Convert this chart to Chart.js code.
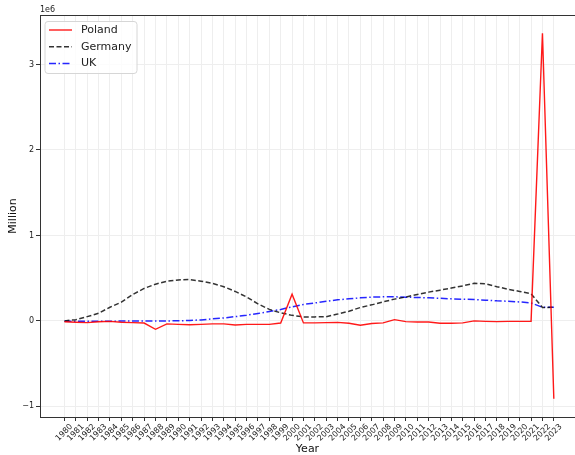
<!DOCTYPE html>
<html>
<head>
<meta charset="utf-8">
<script src="https://cdn.jsdelivr.net/npm/chart.js@4"></script>
<style>
  body { margin: 0; background: #fff; }
  #wrap { width: 575px; height: 455px; position: relative; }
</style>
</head>
<body>
<div id="wrap"><canvas id="myChart"></canvas></div>
<script>
// ----------- Data (raw units, axis shown in 1e6) ------------ //
let years = [];
for (let y = 1980; y <= 2023; y++) years.push(y);

let poland = [
  -10000, -15000, -20000, -10000, -5000, -15000, -20000, -25000, -98000, -35000,
  -40000, -45000, -40000, -35000, -35000, -48000, -40000, -40000, -40000, -25000,
  313000, -23000, -23000, -20000, -17000, -27000, -50000, -30000, -23000, 15000,
  -8000, -12000, -12000, -27000, -27000, -23000, 0, -5000, -8000, -5000,
  -5000, -5000, 3365000, -910000
];
let germany = [
  0, 15000, 50000, 90000, 160000, 220000, 310000, 380000, 430000, 465000,
  480000, 485000, 465000, 440000, 400000, 345000, 280000, 200000, 135000, 95000,
  65000, 47000, 47000, 50000, 80000, 114000, 157000, 188000, 223000, 255000,
  280000, 310000, 337000, 360000, 384000, 410000, 440000, 435000, 400000, 370000,
  345000, 317000, 157000, 160000
];
let uk = [
  -5000, -5000, -5000, -3000, -3000, -2000, -2000, -1000, 0, 0,
  2000, 5000, 12000, 24000, 35000, 50000, 67000, 87000, 110000, 134000,
  165000, 193000, 210000, 230000, 247000, 258000, 270000, 278000, 282000, 282000,
  278000, 274000, 270000, 265000, 258000, 254000, 250000, 243000, 235000, 230000,
  222000, 210000, 160000, 160000
];

let yTicks = [-1e6, 0, 1e6, 2e6, 3e6];

let fontName = "'DejaVu Sans', sans-serif";
let spine = "#333";

// ----------- Extra drawing: top spine, offset text, legend ------------ //
const extras = {
  id: "extras",
  afterDatasetsDraw(chart) {
    const ctx = chart.ctx;
    const a = chart.chartArea;
    ctx.save();
    ctx.strokeStyle = spine;
    ctx.lineWidth = 1;
    ctx.beginPath();
    ctx.moveTo(a.left, a.top + 0.5);
    ctx.lineTo(a.right, a.top + 0.5);
    ctx.stroke();

    // offset text
    ctx.fillStyle = "#222";
    ctx.font = "8px " + fontName;
    ctx.textBaseline = "middle";
    ctx.textAlign = "left";
    ctx.fillText("1e6", a.left, 10);

    // legend
    const bx = 45, by = 21.5, bw = 92, bh = 52, r = 3;
    ctx.beginPath();
    ctx.moveTo(bx + r, by);
    ctx.arcTo(bx + bw, by, bx + bw, by + bh, r);
    ctx.arcTo(bx + bw, by + bh, bx, by + bh, r);
    ctx.arcTo(bx, by + bh, bx, by, r);
    ctx.arcTo(bx, by, bx + bw, by, r);
    ctx.closePath();
    ctx.fillStyle = "rgba(255,255,255,0.8)";
    ctx.fill();
    ctx.strokeStyle = "#d6d6d6";
    ctx.stroke();

    ctx.font = "11px " + fontName;
    chart.data.datasets.forEach((ds, i) => {
      const cy = 30 + i * 16.7;
      ctx.beginPath();
      ctx.setLineDash(ds.borderDash || []);
      ctx.strokeStyle = ds.borderColor;
      ctx.lineWidth = ds.borderWidth;
      ctx.moveTo(49, cy);
      ctx.lineTo(72, cy);
      ctx.stroke();
      ctx.setLineDash([]);
      ctx.fillStyle = "#222";
      ctx.fillText(ds.label, 81, cy);
    });
    ctx.restore();
  }
};

// ----------- Chart ------------ //
function show_chart() {
  new Chart("myChart", {
    type: "line",
    data: {
      datasets: [
        {
          label: "Poland",
          data: years.map((y, i) => ({ x: y, y: poland[i] })),
          borderColor: "rgba(255,0,0,0.9)",
          borderWidth: 1.4,
          pointRadius: 0,
          tension: 0
        },
        {
          label: "Germany",
          data: years.map((y, i) => ({ x: y, y: germany[i] })),
          borderColor: "rgba(0,0,0,0.8)",
          borderWidth: 1.5,
          borderDash: [5, 2.5],
          pointRadius: 0,
          tension: 0
        },
        {
          label: "UK",
          data: years.map((y, i) => ({ x: y, y: uk[i] })),
          borderColor: "rgba(0,0,255,0.85)",
          borderWidth: 1.5,
          borderDash: [7, 2.5, 1.5, 2.5],
          pointRadius: 0,
          tension: 0
        }
      ]
    },
    options: {
      responsive: true,
      maintainAspectRatio: false,
      animation: false,
      layout: { padding: { top: 15, right: 0, left: 0, bottom: 0 } },
      plugins: { legend: { display: false }, tooltip: { enabled: false } },
      scales: {
        x: {
          type: "linear",
          min: 1977.85,
          max: 2024.86,
          afterBuildTicks: (axis) => { axis.ticks = years.map(v => ({ value: v })); },
          afterFit: (scale) => { scale.height = 38; },
          ticks: {
            autoSkip: false,
            maxRotation: 45,
            minRotation: 45,
            labelOffset: 7,
            padding: 1,
            color: "#222",
            font: { family: fontName, size: 8 },
            callback: (v) => String(v)
          },
          grid: { color: "#eeeeee", tickColor: spine, tickLength: 4, lineWidth: 1 },
          border: { color: spine, width: 1 },
          title: {
            display: true,
            text: "Year",
            color: "#111",
            font: { family: fontName, size: 11 },
            padding: { top: 0, bottom: -1 }
          }
        },
        y: {
          min: -1.124e6,
          max: 3.579e6,
          afterBuildTicks: (axis) => { axis.ticks = yTicks.map(v => ({ value: v })); },
          afterFit: (scale) => { scale.width = 40; },
          ticks: {
            padding: 2,
            color: "#222",
            font: { family: fontName, size: 8 },
            callback: (v) => (v / 1e6 < 0 ? "\u2212" + Math.abs(v / 1e6) : String(v / 1e6))
          },
          grid: { color: "#eeeeee", tickColor: spine, tickLength: 4, lineWidth: 1 },
          border: { color: spine, width: 1 },
          title: {
            display: true,
            text: "Million",
            color: "#111",
            font: { family: fontName, size: 11 },
            padding: { top: 6.4, bottom: 0 }
          }
        }
      }
    },
    plugins: [extras]
  });
}

show_chart();
</script>
</body>
</html>
